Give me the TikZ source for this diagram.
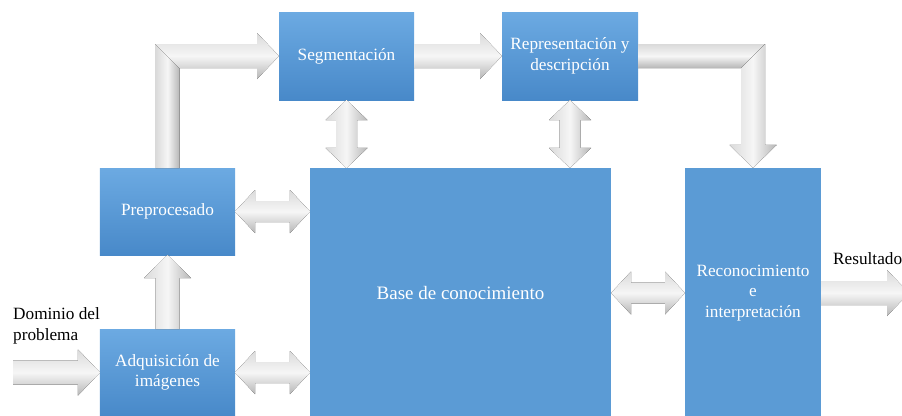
\documentclass[tikz,border=0pt]{standalone}
\usepackage{fontspec}
\setmainfont{Liberation Serif}
\usetikzlibrary{calc}
\definecolor{boxblue}{RGB}{91,155,213}
\definecolor{boxtop}{RGB}{108,170,226}
\definecolor{boxbot}{RGB}{72,137,201}
\definecolor{arrlight}{RGB}{246,246,246}
\definecolor{arrmid}{RGB}{218,218,218}
\definecolor{arrdark}{RGB}{182,182,182}

% block arrows, drawn between two points
\newcommand{\hdbl}[2]{%
  \fill[harr] (#1) -- ++(20,-21.5) -- ++(0,11) -- ($(#2)+(-20,-10.5)$) -- ++(0,-11)
    -- (#2) -- ++(-20,21.5) -- ++(0,-11) -- ($(#1)+(20,10.5)$) -- ++(0,11) -- cycle;}
\newcommand{\vdbl}[2]{%
  \fill[varr] (#1) -- ++(21,20) -- ++(-10.5,0) -- ($(#2)+(10.5,-20)$) -- ++(10.5,0)
    -- (#2) -- ++(-21,-20) -- ++(10.5,0) -- ($(#1)+(-10.5,20)$) -- ++(-10.5,0) -- cycle;}
\newcommand{\hsgl}[2]{%
  \fill[harr] ($(#1)+(0,-12)$) -- ($(#2)+(-22,-12)$) -- ++(0,-11) -- (#2)
    -- ++(-22,23) -- ++(0,-11) -- ($(#1)+(0,12)$) -- cycle;}

\begin{document}
\begin{tikzpicture}[
  x=0.03cm, y=-0.03cm,
  every node/.style={font=\fontsize{14.7}{17.5}\selectfont},
  blk/.style={inner sep=0pt,outer sep=0pt,align=center,text=white},
  smallblk/.style={blk,top color=boxtop,bottom color=boxbot},
  bigblk/.style={blk,fill=boxblue},
  harr/.style={top color=arrmid,bottom color=arrdark,middle color=arrlight},
  varr/.style={left color=arrmid,right color=arrdark,middle color=arrlight},
]
  \useasboundingbox (0,0) rectangle (902,415);
  \clip (0,0) rectangle (902,415);

  % Boxes
  \node[smallblk,minimum width=4.05cm,minimum height=2.64cm]
    (seg) at (346.5,56) {Segmentación};
  \node[smallblk,minimum width=4.08cm,minimum height=2.64cm]
    (rep) at (570,56) {Representación y\\descripción};
  \node[smallblk,minimum width=4.05cm,minimum height=2.61cm]
    (pre) at (167.5,211.5) {Preprocesado};
  \node[smallblk,minimum width=4.05cm,minimum height=2.61cm]
    (adq) at (167.5,372.5) {Adquisición de\\imágenes};
  \node[bigblk,minimum width=9.03cm,minimum height=7.5cm,font=\fontsize{16.2}{19}\selectfont]
    (base) at (460.5,293) {Base de conocimiento};
  \node[bigblk,minimum width=4.08cm,minimum height=7.5cm]
    (rec) at (753,293) {Reconocimiento\\e\\interpretación};

  % Labels outside
  \node[anchor=west,align=left,inner sep=0pt] (dom) at (13,326) {Dominio del\\problema};
  \node[anchor=west,inner sep=0pt] (res) at (833,259) {Resultado};

  % Helper points
  \coordinate (src) at (13,372.5);
  \coordinate (dst) at (909,293);
  \coordinate (b1) at (base.west |- pre.east);
  \coordinate (b2) at (base.west |- adq.east);
  \coordinate (b3) at (seg.south |- base.north);
  \coordinate (b4) at (rep.south |- base.north);
  \coordinate (t1) at (pre.north |- seg.west);
  \coordinate (t2) at (rec.north |- rep.east);

  % Arrows
  \hsgl{src}{adq.west}
  \hsgl{seg.east}{rep.west}
  \hsgl{rec.east}{dst}
  \hdbl{pre.east}{b1}
  \hdbl{adq.east}{b2}
  \hdbl{base.east}{rec.west}
  \vdbl{seg.south}{b3}
  \vdbl{rep.south}{b4}
  \fill[varr] ($(adq.north)+(-12,0)$) -- ($(pre.south)+(-12,23)$) -- ++(-11.5,0)
    -- (pre.south) -- ++(23.5,23) -- ++(-11.5,0) -- ($(adq.north)+(12,0)$) -- cycle;

  % Preprocesado up to Segmentacion
  \fill[varr] ($(pre.north)+(-12,0)$) -- ($(t1)+(-12,-12)$) -- ($(t1)+(12,12)$)
    -- ($(pre.north)+(12,0)$) -- cycle;
  \fill[harr] ($(t1)+(-12,-12)$) -- ($(seg.west)+(-22,-12)$) -- ++(0,-11) -- (seg.west)
    -- ++(-22,23) -- ++(0,-11) -- ($(t1)+(12,12)$) -- cycle;

  % Representacion down to Reconocimiento
  \fill[harr] ($(rep.east)+(0,-12)$) -- ($(t2)+(12,-12)$) -- ($(t2)+(-12,12)$)
    -- ($(rep.east)+(0,12)$) -- cycle;
  \fill[varr] ($(t2)+(12,-12)$) -- ($(rec.north)+(12,-23)$) -- ++(11.5,0) -- (rec.north)
    -- ++(-23.5,-23) -- ++(11.5,0) -- ($(t2)+(-12,12)$) -- cycle;
\end{tikzpicture}
\end{document}
